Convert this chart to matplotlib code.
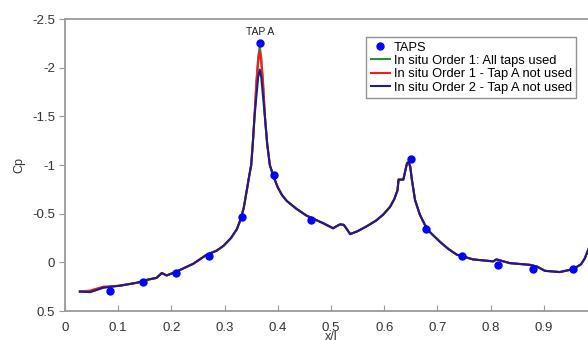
import numpy as np
import matplotlib
matplotlib.use("Agg")
import matplotlib.pyplot as plt

plt.rcParams["font.family"] = ["Liberation Sans", "DejaVu Sans"]

# pressure taps
tap_x = [0.085, 0.147, 0.208, 0.271, 0.332, 0.366, 0.392, 0.463, 0.650, 0.679, 0.746, 0.813, 0.880, 0.955]
tap_cp = [0.29, 0.20, 0.11, -0.06, -0.47, -2.25, -0.90, -0.43, -1.06, -0.34, -0.06, 0.03, 0.07, 0.07]

# common shape of the reconstructed curves (away from the peak)
left_x = [0.028, 0.047, 0.072, 0.103, 0.135, 0.154, 0.172, 0.182, 0.191, 0.210, 0.241, 0.266,
          0.285, 0.298, 0.312, 0.323, 0.330, 0.336, 0.342, 0.346, 0.350, 0.353, 0.356]
left_cp = [0.30, 0.306, 0.26, 0.24, 0.21, 0.18, 0.16, 0.11, 0.135, 0.094, 0.015, -0.077,
           -0.12, -0.17, -0.25, -0.34, -0.44, -0.56, -0.75, -0.88, -1.0, -1.22, -1.48]
right_x = [0.376, 0.380, 0.385, 0.392, 0.400, 0.408, 0.417, 0.435, 0.454, 0.470, 0.486, 0.504,
           0.510, 0.517, 0.524, 0.530, 0.536, 0.550, 0.567, 0.585, 0.598, 0.611, 0.619, 0.625,
           0.627, 0.636, 0.640, 0.643, 0.646, 0.649, 0.652, 0.658, 0.667, 0.676, 0.686, 0.705,
           0.720, 0.736, 0.767, 0.805, 0.811, 0.836, 0.874, 0.887, 0.902, 0.930, 0.955, 0.970,
           0.977, 0.985]
right_cp = [-1.48, -1.22, -1.0, -0.88, -0.77, -0.69, -0.63, -0.55, -0.48, -0.44, -0.40, -0.35,
            -0.37, -0.39, -0.385, -0.34, -0.29, -0.32, -0.37, -0.43, -0.49, -0.57, -0.65, -0.74,
            -0.85, -0.85, -0.95, -1.02, -1.03, -0.98, -0.85, -0.64, -0.49, -0.39, -0.31, -0.21,
            -0.14, -0.08, -0.03, -0.01, -0.03, 0.008, 0.026, 0.043, 0.087, 0.10, 0.07, 0.02,
            -0.04, -0.15]

# peak region for each reconstruction
peak_x = [0.360, 0.363, 0.366, 0.369, 0.372]
peak_green = [-1.88, -2.10, -2.22, -2.10, -1.88]
peak_red = [-1.85, -2.05, -2.17, -2.05, -1.85]
peak_blue = [-1.72, -1.90, -1.98, -1.90, -1.72]


def series(peak):
    return left_x + peak_x + right_x, left_cp + peak + right_cp


fig = plt.figure(figsize=(5.88, 3.40), dpi=100)
ax = fig.add_axes([65 / 588, 29 / 340, 532 / 588, 292 / 340])

gx, gy = series(peak_green)
rx, ry = series(peak_red)
bx, by = series(peak_blue)
# red sits a touch lower near the leading edge
ry[1] = 0.29
ry[2] = 0.25

ax.plot(tap_x, tap_cp, "o", color="#0000ff", markersize=5, label="TAPS", zorder=5)
ax.plot(gx, gy, color="#2e8b3a", lw=1.5, label="In situ Order 1: All taps used")
ax.plot(rx, ry, color="#ff1a1a", lw=1.5, label="In situ Order 1 - Tap A not used")
ax.plot(bx, by, color="#1c1c8a", lw=1.5, label="In situ Order 2 - Tap A not used")

ax.text(0.366, -2.37, "TAP A", ha="center", va="center", fontsize=7.5, color="#222222")

ax.set_xlim(0, 1.0)
ax.set_ylim(0.5, -2.5)
ax.set_xticks(np.arange(0, 0.91, 0.1))
ax.set_xticklabels(["0", "0.1", "0.2", "0.3", "0.4", "0.5", "0.6", "0.7", "0.8", "0.9"])
ax.set_yticks([-2.5, -2, -1.5, -1, -0.5, 0, 0.5])
ax.set_yticklabels(["-2.5", "-2", "-1.5", "-1", "-0.5", "0", "0.5"])

for side in ["left", "bottom", "top"]:
    ax.spines[side].set_color("#9a9a9a")
    ax.spines[side].set_linewidth(1.3)
ax.spines["right"].set_visible(False)

ax.tick_params(axis="x", direction="in", length=4, color="#9a9a9a", labelsize=9.5,
               labelcolor="#333333", pad=8)
ax.tick_params(axis="y", direction="out", length=4, color="#9a9a9a", labelsize=9.5,
               labelcolor="#333333", pad=3)

ax.set_ylabel("Cp", fontsize=9, color="#333333", labelpad=5)
ax.set_xlabel("x/l", fontsize=9, color="#333333", labelpad=-2)

leg = ax.legend(loc="upper left", bbox_to_anchor=((366 - 65) / 532, 1 - 18 / 292),
                fontsize=9.3, frameon=True, fancybox=False, borderpad=0.35,
                handlelength=1.5, handletextpad=0.3, labelspacing=0.1, borderaxespad=0)
leg.get_frame().set_edgecolor("#777777")
leg.get_frame().set_linewidth(1.0)

fig.savefig("out.png", dpi=100)
